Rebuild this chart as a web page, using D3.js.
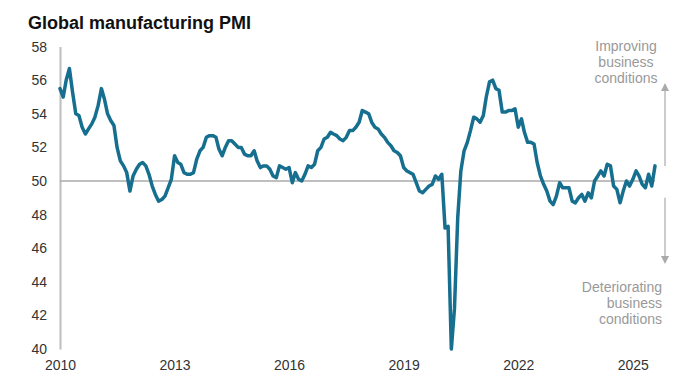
<!DOCTYPE html>
<html>
<head>
<meta charset="utf-8">
<script src="https://cdn.jsdelivr.net/npm/d3@7"></script>
<style>
  body { margin: 0; background: #fff; }
  svg { font-family: "Liberation Sans", Arial, sans-serif; }
  .tick text { fill: #333; font-size: 14px; }
  .title { font-weight: bold; font-size: 18px; fill: #111; }
  .note { font-size: 14px; fill: #999; }
</style>
</head>
<body>
<svg id="pmi-chart" width="695" height="388"></svg>
<script>
// monthly readings, Jan..Dec
const pmi2010 = [55.5, 55.0, 56.0, 56.7, 55.3, 54.0, 53.9, 53.2, 52.8, 53.1, 53.4, 53.8];
const pmi2011 = [54.5, 55.5, 54.9, 54.0, 53.6, 53.3, 52.0, 51.2, 50.9, 50.5, 49.4, 50.3];
const pmi2012 = [50.7, 51.0, 51.1, 50.9, 50.4, 49.7, 49.2, 48.8, 48.9, 49.1, 49.6, 50.1];
const pmi2013 = [51.5, 51.1, 51.0, 50.5, 50.4, 50.4, 50.5, 51.3, 51.8, 52.0, 52.6, 52.7];
const pmi2014 = [52.7, 52.6, 51.9, 51.5, 52.0, 52.4, 52.4, 52.2, 52.0, 52.0, 51.6, 51.5];
const pmi2015 = [51.5, 51.8, 51.2, 50.8, 50.9, 50.9, 50.7, 50.3, 50.2, 50.9, 50.8, 50.7];
const pmi2016 = [50.8, 49.9, 50.5, 50.1, 50.0, 50.4, 50.9, 50.8, 51.0, 51.8, 52.0, 52.5];
const pmi2017 = [52.6, 52.9, 52.8, 52.7, 52.5, 52.4, 52.6, 53.0, 53.0, 53.2, 53.5, 54.2];
const pmi2018 = [54.1, 54.0, 53.5, 53.2, 53.1, 52.8, 52.6, 52.3, 52.1, 51.8, 51.7, 51.5];
const pmi2019 = [50.8, 50.6, 50.5, 50.4, 49.9, 49.4, 49.3, 49.5, 49.7, 49.8, 50.3, 50.1];
const pmi2020 = [50.4, 47.2, 47.3, 40.0, 42.4, 47.8, 50.6, 51.8, 52.3, 53.0, 53.8, 53.7];
const pmi2021 = [53.5, 53.9, 55.0, 55.9, 56.0, 55.5, 55.4, 54.1, 54.1, 54.2, 54.2, 54.3];
const pmi2022 = [53.2, 53.7, 52.9, 52.3, 52.3, 52.2, 51.1, 50.3, 49.8, 49.4, 48.8, 48.6];
const pmi2023 = [49.1, 49.9, 49.6, 49.6, 49.6, 48.8, 48.7, 49.0, 49.2, 48.8, 49.3, 49.0];
const pmi2024 = [50.0, 50.3, 50.6, 50.3, 51.0, 50.9, 49.7, 49.5, 48.7, 49.4, 50.0, 49.7];
const pmi2025 = [50.1, 50.6, 50.3, 49.8, 49.6, 50.4, 49.7, 50.9];

const years = [2010, 2011, 2012, 2013, 2014, 2015, 2016, 2017, 2018, 2019, 2020, 2021, 2022, 2023, 2024, 2025];
const yearValues = [pmi2010, pmi2011, pmi2012, pmi2013, pmi2014, pmi2015, pmi2016, pmi2017,
  pmi2018, pmi2019, pmi2020, pmi2021, pmi2022, pmi2023, pmi2024, pmi2025];

const xTickYears = [2010, 2013, 2016, 2019, 2022, 2025];
const yTicks = [40, 42, 44, 46, 48, 50, 52, 54, 56, 58];

const title = 'Global manufacturing PMI';
const upNote = ['Improving', 'business', 'conditions'];
const downNote = ['Deteriorating', 'business', 'conditions'];

const data = [];
years.forEach((yr, i) => {
  yearValues[i].forEach((v, m) => data.push({ date: new Date(yr, m, 1), value: v }));
});

const svg = d3.select('#pmi-chart');

const x = d3.scaleTime()
  .domain([new Date(2010, 0, 1), new Date(2026, 0, 1)])
  .range([60, 671]);

const y = d3.scaleLinear()
  .domain([40, 58])
  .range([349, 46.6]);

// title
svg.append('text')
  .attr('class', 'title')
  .attr('x', 28)
  .attr('y', 29)
  .text(title);

// y axis
const yAxisG = svg.append('g')
  .attr('transform', 'translate(60,0)')
  .call(d3.axisLeft(y).tickValues(yTicks).tickSize(0).tickSizeOuter(0).tickPadding(13));
yAxisG.select('.domain').attr('stroke', '#bdbdbd').attr('stroke-width', 2);

// x axis
const xAxisG = svg.append('g')
  .attr('transform', 'translate(0,349)')
  .call(d3.axisBottom(x)
    .tickValues(xTickYears.map(yr => new Date(yr, 0, 1)))
    .tickFormat(d3.timeFormat('%Y'))
    .tickSize(0)
    .tickPadding(11));
xAxisG.select('.domain').remove();

// 50 reference line
svg.append('line')
  .attr('x1', x(new Date(2010, 0, 1)))
  .attr('x2', x(new Date(2025, 7, 1)))
  .attr('y1', y(50))
  .attr('y2', y(50))
  .attr('stroke', '#aaa')
  .attr('stroke-width', 1.5);

// PMI line
const valueline = d3.line()
  .x(d => x(d.date))
  .y(d => y(d.value));

svg.append('path')
  .datum(data)
  .attr('fill', 'none')
  .attr('stroke', '#176f8f')
  .attr('stroke-width', 3.5)
  .attr('stroke-linejoin', 'round')
  .attr('stroke-linecap', 'round')
  .attr('d', valueline);

// arrows
svg.append('defs').append('marker')
  .attr('id', 'arrow')
  .attr('viewBox', '0 0 10 10')
  .attr('refX', 5)
  .attr('refY', 5)
  .attr('markerWidth', 10)
  .attr('markerHeight', 8)
  .attr('markerUnits', 'userSpaceOnUse')
  .attr('orient', 'auto')
  .append('path')
  .attr('d', 'M0,0 L10,5 L0,10 Z')
  .attr('fill', '#aaa');

svg.append('line')
  .attr('x1', 665).attr('x2', 665)
  .attr('y1', y(50.9)).attr('y2', y(55.6))
  .attr('stroke', '#bbb').attr('stroke-width', 1.5)
  .attr('marker-end', 'url(#arrow)');

svg.append('line')
  .attr('x1', 665).attr('x2', 665)
  .attr('y1', y(49.0)).attr('y2', y(45.3))
  .attr('stroke', '#bbb').attr('stroke-width', 1.5)
  .attr('marker-end', 'url(#arrow)');

svg.append('text')
  .attr('class', 'note')
  .attr('text-anchor', 'middle')
  .selectAll('tspan')
  .data(upNote)
  .join('tspan')
  .attr('x', 626)
  .attr('y', (d, i) => 51 + i * 16)
  .text(d => d);

svg.append('text')
  .attr('class', 'note')
  .attr('text-anchor', 'end')
  .selectAll('tspan')
  .data(downNote)
  .join('tspan')
  .attr('x', 662)
  .attr('y', (d, i) => 291.5 + i * 16)
  .text(d => d);
</script>
</body>
</html>
